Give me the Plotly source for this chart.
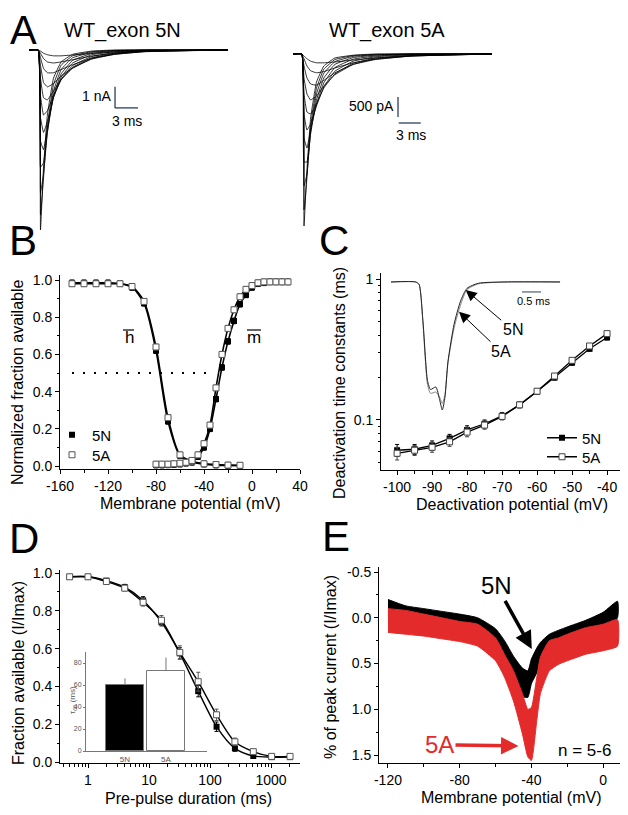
import plotly.graph_objects as go

W, H = 628, 815
SHIFT = 8  # the page body puts the figure 8 px in from the top-left corner
FONT = "Liberation Sans, Arial, sans-serif"
RED = "#e32b2b"

# ---- A: current families (ms, nA) ----
t_5n = [-1.2, 0, 0.3, 0.7, 1.2, 2, 3, 4.5, 7, 10, 14, 24.8]
i_5n = [
    [0, 0, -8.3, -5.4, -3.0, -1.3, -0.55, -0.2, -0.05, 0, 0, 0],
    [0, 0, -7.6, -5.9, -3.5, -1.6, -0.7, -0.27, -0.08, -0.02, 0, 0],
    [0, 0, -6.6, -5.7, -3.8, -1.9, -0.9, -0.36, -0.11, -0.03, 0, 0],
    [0, 0, -5.4, -5.2, -3.8, -2.1, -1.1, -0.48, -0.16, -0.05, -0.01, 0],
    [0, 0, -4.2, -4.6, -3.6, -2.2, -1.25, -0.6, -0.22, -0.08, -0.02, 0],
    [0, 0, -3.1, -3.8, -3.3, -2.2, -1.35, -0.72, -0.3, -0.12, -0.04, 0],
    [0, 0, -2.1, -3.0, -2.8, -2.1, -1.38, -0.8, -0.36, -0.15, -0.05, 0],
    [0, 0, -1.3, -2.2, -2.3, -1.9, -1.35, -0.85, -0.4, -0.18, -0.06, 0],
    [0, 0, -0.7, -1.5, -1.7, -1.55, -1.2, -0.82, -0.42, -0.2, -0.07, 0],
    [0, 0, -0.35, -0.85, -1.05, -1.05, -0.9, -0.68, -0.38, -0.2, -0.08, 0],
    [0, 0, -0.15, -0.4, -0.55, -0.6, -0.55, -0.45, -0.28, -0.15, -0.06, 0],
    [0, 0, -0.05, -0.15, -0.22, -0.27, -0.27, -0.23, -0.16, -0.09, -0.04, 0],
]
t_5a = [-1.2, 0, 0.3, 0.7, 1.2, 2, 3, 4.5, 7, 10, 15, 25.9]
i_5a = [
    [0, 0, -4.3, -2.9, -1.6, -0.7, -0.3, -0.1, -0.03, 0, 0, 0],
    [0, 0, -3.9, -3.1, -1.8, -0.85, -0.38, -0.14, -0.04, -0.01, 0, 0],
    [0, 0, -3.3, -3.0, -1.95, -1.0, -0.48, -0.19, -0.06, -0.02, 0, 0],
    [0, 0, -2.7, -2.7, -2.0, -1.15, -0.6, -0.26, -0.09, -0.03, 0, 0],
    [0, 0, -2.1, -2.35, -1.9, -1.25, -0.72, -0.34, -0.13, -0.05, -0.01, 0],
    [0, 0, -1.5, -1.9, -1.75, -1.3, -0.82, -0.43, -0.18, -0.07, -0.02, 0],
    [0, 0, -1.0, -1.45, -1.5, -1.25, -0.85, -0.5, -0.23, -0.1, -0.03, 0],
    [0, 0, -0.6, -1.0, -1.15, -1.05, -0.8, -0.52, -0.26, -0.12, -0.04, 0],
    [0, 0, -0.3, -0.6, -0.75, -0.78, -0.66, -0.47, -0.26, -0.14, -0.05, 0],
    [0, 0, -0.12, -0.3, -0.42, -0.47, -0.44, -0.35, -0.22, -0.13, -0.05, 0],
    [0, 0, -0.05, -0.12, -0.18, -0.22, -0.22, -0.2, -0.15, -0.1, -0.05, 0],
]

# ---- B: steady-state inactivation (h) and activation (m) ----
v_h = [-150, -140, -130, -120, -110, -100, -90, -80, -70, -60, -50, -40, -30, -20, -10]
h_5n = [0.985, 0.985, 0.985, 0.985, 0.98, 0.96, 0.875, 0.62, 0.24, 0.055, 0.02, 0.01, 0.005, 0.003, 0.002]
h_5a = [0.98, 0.98, 0.98, 0.98, 0.98, 0.965, 0.885, 0.64, 0.26, 0.06, 0.025, 0.012, 0.008, 0.005, 0.004]
v_m = [-80, -75, -70, -65, -60, -55, -50, -45, -40, -35, -30, -25, -20, -15, -10, -5, 0, 5, 10, 15, 20, 25, 30]
m_5n = [0.005, 0.005, 0.006, 0.008, 0.01, 0.015, 0.025, 0.05, 0.1, 0.2, 0.36, 0.53, 0.67, 0.78, 0.87,
        0.92, 0.96, 0.98, 0.985, 0.99, 0.99, 0.99, 0.99]
m_5a = [0.01, 0.01, 0.01, 0.012, 0.015, 0.02, 0.03, 0.06, 0.12, 0.22, 0.42, 0.6, 0.74, 0.84, 0.91,
        0.95, 0.97, 0.985, 0.99, 0.99, 0.99, 0.99, 0.99]

# ---- C: deactivation time constants (ms) ----
v_deact = [-100, -95, -90, -85, -80, -75, -70, -65, -60, -55, -50, -45, -40]
tau_5n = [0.061, 0.062, 0.066, 0.074, 0.085, 0.094, 0.107, 0.128, 0.159, 0.2, 0.255, 0.32, 0.385]
tau_5a = [0.058, 0.061, 0.064, 0.070, 0.082, 0.092, 0.106, 0.128, 0.16, 0.205, 0.265, 0.335, 0.41]
tau_err = [0.006, 0.005, 0.005, 0.005, 0.006, 0.006, 0.006, 0.006, 0.007, 0.008, 0.01, 0.012, 0.015]
# inset tail currents (ms, normalised)
t_tail = [0, 0.65, 0.74, 0.84, 0.96, 1.04, 1.18, 1.28, 1.35, 1.42, 1.5, 1.66, 1.83, 2.0, 2.3, 3.0, 4.45]
tail_5n = [0, 0, -0.02, -0.3, -0.77, -0.84, -0.82, -0.92, -1.0, -0.9, -0.62, -0.33, -0.15, -0.05, -0.01, 0, 0]
tail_5a = [0, 0, -0.02, -0.32, -0.8, -0.87, -0.86, -0.9, -0.95, -0.88, -0.63, -0.36, -0.18, -0.06, -0.015, 0, 0]

# ---- D: development of closed-state inactivation ----
dur = [0.5, 1, 2, 4, 8, 16, 32, 64, 128, 256, 512, 1024, 2048]
frac_5n = [0.98, 0.98, 0.96, 0.925, 0.855, 0.74, 0.575, 0.375, 0.187, 0.072, 0.032, 0.026, 0.026]
frac_5a = [0.98, 0.98, 0.955, 0.92, 0.845, 0.75, 0.58, 0.425, 0.25, 0.107, 0.055, 0.03, 0.03]
err_5n = [0.01, 0.01, 0.01, 0.015, 0.02, 0.02, 0.03, 0.03, 0.025, 0.015, 0.01, 0.01, 0.01]
err_5a = [0.01, 0.01, 0.015, 0.015, 0.02, 0.025, 0.035, 0.05, 0.03, 0.02, 0.01, 0.01, 0.01]
bar_names = ["5N", "5A"]
tau60 = [60, 73]
tau60_err = [6, 12]

# ---- E: ramp currents (band edges of the noisy traces) ----
v_e5n = [-120, -110, -100, -90, -80, -70, -60, -55, -50, -45, -42, -40, -37, -35, -30, -20, -10, 0, 8]
top_5n = [-0.2, -0.13, -0.1, -0.07, -0.04, 0.0, 0.12, 0.25, 0.42, 0.55, 0.58, 0.45, 0.33, 0.27, 0.18, 0.1,
          0.03, -0.06, -0.18]
bot_5n = [0.0, 0.05, 0.06, 0.08, 0.1, 0.15, 0.32, 0.5, 0.7, 0.86, 0.87, 0.72, 0.6, 0.5, 0.4, 0.3, 0.21, 0.14, 0.0]
v_e5a = [-120, -110, -100, -90, -80, -70, -60, -55, -50, -45, -42, -40, -37, -35, -30, -25, -20, -10, 0, 8]
top_5a = [-0.1, -0.08, -0.04, 0.0, 0.04, 0.07, 0.22, 0.4, 0.58, 0.83, 1.0, 0.98, 0.65, 0.43, 0.25, 0.22, 0.18,
          0.11, 0.07, 0.02]
bot_5a = [0.16, 0.18, 0.2, 0.23, 0.26, 0.31, 0.47, 0.65, 0.91, 1.27, 1.52, 1.56, 1.12, 0.83, 0.58, 0.51, 0.47,
          0.4, 0.36, 0.31]


def fx(px):
    return (px - SHIFT) / W


def fy(py):
    return 1 - (py - SHIFT) / H


def xd(a, b):
    return [fx(a), fx(b)]


def yd(top, bottom):
    return [fy(bottom), fy(top)]


def axis(domain, rng, anchor, **kw):
    d = dict(domain=domain, range=rng, anchor=anchor, showline=True, linecolor="black", linewidth=1,
             ticks="outside", ticklen=4, tickwidth=1, tickcolor="black", showgrid=False, zeroline=False,
             tickfont=dict(size=14, color="black", family=FONT))
    d.update(kw)
    return d


def minor(dtick, tick0=0, ln=2.5):
    return dict(ticks="outside", ticklen=ln, tickcolor="black", tickmode="linear", tick0=tick0, dtick=dtick,
                showgrid=False)


def txt(text, px, py, size, color="black", angle=0, xanchor="center"):
    return dict(text=text, x=fx(px), y=fy(py), xref="paper", yref="paper", showarrow=False,
                textangle=angle, xanchor=xanchor, yanchor="middle",
                font=dict(size=size, color=color, family=FONT))


def one_legend(px, py):
    return dict(x=fx(px), y=fy(py), xanchor="left", yanchor="middle", bgcolor="rgba(0,0,0,0)",
                font=dict(size=15, family=FONT), borderwidth=0)


def pline(x0, x1, py, width=1.2):
    return dict(type="line", xref="paper", yref="paper", x0=fx(x0), x1=fx(x1), y0=fy(py), y1=fy(py),
                line=dict(width=width, color="black"))


fig = go.Figure()

# A
for tr in i_5n:
    fig.add_trace(go.Scatter(x=t_5n, y=tr, mode="lines", xaxis="x", yaxis="y", showlegend=False,
                             line=dict(color="black", width=0.8, shape="spline", smoothing=0.3)))
for tr in i_5a:
    fig.add_trace(go.Scatter(x=t_5a, y=tr, mode="lines", xaxis="x2", yaxis="y2", showlegend=False,
                             line=dict(color="black", width=0.8, shape="spline", smoothing=0.3)))

# B
for v, y in [(v_h, h_5n), (v_h, h_5a), (v_m, m_5n), (v_m, m_5a)]:
    fig.add_trace(go.Scatter(x=v, y=y, mode="lines", xaxis="x3", yaxis="y3", showlegend=False,
                             line=dict(color="black", width=1.6, shape="spline", smoothing=0.8)))
fig.add_trace(go.Scatter(x=v_h + v_m, y=h_5n + m_5n, mode="markers", name="5N", xaxis="x3", yaxis="y3",
                         legend="legend",
                         marker=dict(symbol="square", size=6, color="black"),
                         error_y=dict(type="constant", value=0.015, thickness=1, width=2, color="black")))
fig.add_trace(go.Scatter(x=v_h + v_m, y=h_5a + m_5a, mode="markers", name="5A", xaxis="x3", yaxis="y3",
                         legend="legend3",
                         marker=dict(symbol="square", size=6, color="white", line=dict(color="#555", width=1)),
                         error_y=dict(type="constant", value=0.015, thickness=1, width=2, color="#555")))

# C
fig.add_trace(go.Scatter(x=t_tail, y=tail_5a, mode="lines", xaxis="x5", yaxis="y5", showlegend=False,
                         line=dict(color="#888", width=1, shape="spline", smoothing=0.6)))
fig.add_trace(go.Scatter(x=t_tail, y=tail_5n, mode="lines", xaxis="x5", yaxis="y5", showlegend=False,
                         line=dict(color="#222", width=1, shape="spline", smoothing=0.6)))
fig.add_trace(go.Scatter(x=v_deact, y=tau_5n, mode="lines+markers", name="5N", xaxis="x4", yaxis="y4",
                         legend="legend2", line=dict(color="black", width=1.3),
                         marker=dict(symbol="square", size=6, color="black"),
                         error_y=dict(type="data", array=tau_err, thickness=1, width=2, color="black")))
fig.add_trace(go.Scatter(x=v_deact, y=tau_5a, mode="lines+markers", name="5A", xaxis="x4", yaxis="y4",
                         legend="legend4", line=dict(color="black", width=1.3),
                         marker=dict(symbol="square", size=6, color="white", line=dict(color="#444", width=1)),
                         error_y=dict(type="data", array=tau_err, thickness=1, width=2, color="#444")))

# D
fig.add_trace(go.Bar(x=bar_names, y=tau60, xaxis="x7", yaxis="y7", showlegend=False, width=0.93,
                     marker=dict(color=["black", "white"], line=dict(color="#777", width=1)),
                     error_y=dict(type="data", array=tau60_err, arrayminus=[0, 0], thickness=1, width=0,
                                  color="#777")))
for y in (frac_5n, frac_5a):
    fig.add_trace(go.Scatter(x=dur, y=y, mode="lines", xaxis="x6", yaxis="y6", showlegend=False,
                             line=dict(color="black", width=1.4, shape="spline", smoothing=0.8)))
fig.add_trace(go.Scatter(x=dur, y=frac_5n, mode="markers", xaxis="x6", yaxis="y6", showlegend=False,
                         marker=dict(symbol="square", size=6, color="black"),
                         error_y=dict(type="data", array=err_5n, thickness=1, width=2, color="black")))
fig.add_trace(go.Scatter(x=dur, y=frac_5a, mode="markers", xaxis="x6", yaxis="y6", showlegend=False,
                         marker=dict(symbol="square", size=6, color="white", line=dict(color="#555", width=1)),
                         error_y=dict(type="data", array=err_5a, thickness=1, width=2, color="#555")))

# E
fig.add_trace(go.Scatter(x=v_e5n + v_e5n[::-1], y=top_5n + bot_5n[::-1], mode="lines", fill="toself",
                         fillcolor="black", xaxis="x8", yaxis="y8", showlegend=False,
                         line=dict(color="black", width=1, shape="spline", smoothing=0.5)))
fig.add_trace(go.Scatter(x=v_e5a + v_e5a[::-1], y=top_5a + bot_5a[::-1], mode="lines", fill="toself",
                         fillcolor=RED, xaxis="x8", yaxis="y8", showlegend=False,
                         line=dict(color=RED, width=1, shape="spline", smoothing=0.5)))

hidden = dict(visible=False, showgrid=False, zeroline=False)

annotations = [
    txt("A", 23, 30, 40), txt("B", 23, 240, 42), txt("C", 334, 240, 42),
    txt("D", 24, 538, 42), txt("E", 336, 536, 42),
    txt("WT_exon 5N", 123, 31, 20), txt("WT_exon 5A", 387, 31, 20),
    txt("1 nA", 113, 96, 14, xanchor="right"), txt("3 ms", 127, 121, 14),
    txt("500 pA", 396, 106, 14, xanchor="right"), txt("3 ms", 411, 135, 14),
    txt("h", 129, 337, 17), txt("m", 254, 337, 17),
    txt("Normalized fraction available", 17, 382, 16, angle=-90),
    txt("Membrane potential (mV)", 190, 503, 16),
    txt("Deactivation time constants (ms)", 339, 383, 16, angle=-90),
    txt("Deactivation potential (mV)", 512, 504, 16),
    txt("0.5 ms", 534, 301, 11),
    txt("Fraction available (I/Imax)", 18, 673, 16, angle=-90),
    txt("Pre-pulse duration (ms)", 188, 798, 16),
    txt("τ<sub>60</sub> (ms)", 73, 700, 8, color="#555", angle=-90),
    txt("% of peak current (I/Imax)", 330, 667, 16, angle=-90),
    txt("Membrane potential (mV)", 511, 797, 16),
    txt("n = 5-6", 584, 750, 17),
    dict(text="5N", x=1.966, y=-0.0625, xref="x5", yref="y5", ax=47, ay=40, showarrow=True,
         arrowhead=2, arrowsize=2.2, arrowwidth=1, arrowcolor="black", font=dict(size=16, family=FONT)),
    dict(text="5A", x=1.79, y=-0.232, xref="x5", yref="y5", ax=42, ay=40, showarrow=True,
         arrowhead=2, arrowsize=2.2, arrowwidth=1, arrowcolor="black", font=dict(size=16, family=FONT)),
    dict(text="5N", x=-39.8, y=0.34, xref="x8", yref="y8", ax=-35, ay=-63, showarrow=True,
         arrowhead=2, arrowsize=1.0, arrowwidth=3.5, arrowcolor="black",
         font=dict(size=24, color="black", family=FONT)),
    dict(text="5A", x=-47.2, y=1.40, xref="x8", yref="y8", ax=-79, ay=-1, showarrow=True,
         arrowhead=2, arrowsize=1.0, arrowwidth=3.5, arrowcolor=RED,
         font=dict(size=24, color=RED, family=FONT)),
]

shapes = [
    # scale bars A
    dict(type="line", xref="x", yref="y", x0=10.04, x1=10.04, y0=-1.70, y1=-2.67, line=dict(width=1.3)),
    dict(type="line", xref="x", yref="y", x0=10.04, x1=13.04, y0=-2.67, y1=-2.67, line=dict(width=1.3)),
    dict(type="line", xref="x2", yref="y2", x0=13.1, x1=13.1, y0=-1.075, y1=-1.575, line=dict(width=1.3)),
    dict(type="line", xref="x2", yref="y2", x0=13.2, x1=16.2, y0=-1.725, y1=-1.725, line=dict(width=1.3)),
    # half-maximum dotted line B
    dict(type="line", xref="x3", yref="y3", x0=-150, x1=-37, y0=0.5, y1=0.5,
         line=dict(width=2, color="black", dash="2px,9px")),
    # overbars on h and m
    pline(123, 134, 330), pline(247, 261, 330),
    # inset scale bar C
    dict(type="line", xref="x5", yref="y5", x0=3.45, x1=3.95, y0=-0.078, y1=-0.078, line=dict(width=1)),
]

fig.update_layout(
    width=W, height=H, margin=dict(l=0, r=0, t=0, b=0, autoexpand=False),
    paper_bgcolor="white", plot_bgcolor="rgba(0,0,0,0)",
    font=dict(family=FONT, color="black"),
    xaxis=dict(domain=xd(29, 228), range=[-1.2, 24.8], anchor="y", **hidden),
    yaxis=dict(domain=yd(45, 235), range=[-8.53, 0.23], anchor="x", **hidden),
    xaxis2=dict(domain=xd(293, 492), range=[-1.2, 25.9], anchor="y2", **hidden),
    yaxis2=dict(domain=yd(45, 230), range=[-4.4, 0.225], anchor="x2", **hidden),
    xaxis3=axis(xd(60, 300), [-160, 40], "y3", tickmode="array", tickvals=[-160, -120, -80, -40, 0, 40],
                ticktext=["-160", "-120", "-80", "-40", "0", "40"], minor=minor(20, -160)),
    yaxis3=axis(yd(275, 469), [-0.016, 1.027], "x3", tick0=0, dtick=0.2, tickformat=".1f",
                minor=minor(0.1)),
    xaxis4=axis(xd(381, 620), [-104.6, -36.3], "y4", tickmode="array",
                tickvals=[-100, -90, -80, -70, -60, -50, -40],
                ticktext=["-100", "-90", "-80", "-70", "-60", "-50", "-40"], minor=minor(5, -100)),
    yaxis4=axis(yd(273, 470), [-1.355, 0.043], "x4", type="log", tickmode="array", tickvals=[0.1, 1],
                ticktext=["0.1", "1"], minor=dict(ticks="outside", ticklen=2.5, tickcolor="black",
                                                   dtick="D1", showgrid=False)),
    xaxis5=dict(domain=xd(385, 565), range=[-0.158, 4.58], anchor="y5", **hidden),
    yaxis5=dict(domain=yd(278, 415), range=[-1.039, 0.031], anchor="x5", **hidden),
    xaxis6=axis(xd(60, 300), [-0.459, 3.475], "y6", type="log", tickmode="array",
                tickvals=[1, 10, 100, 1000], ticktext=["1", "10", "100", "1000"],
                minor=dict(ticks="outside", ticklen=2.5, tickcolor="black", dtick="D1", showgrid=False)),
    yaxis6=axis(yd(570, 763), [-0.005, 1.016], "x6", tick0=0, dtick=0.2, tickformat=".1f",
                minor=minor(0.1)),
    xaxis7=axis(xd(86, 207), [-0.95, 2.0], "y7", type="category", ticks="", linecolor="#777",
                tickfont=dict(size=8, color="#555", family=FONT)),
    yaxis7=axis(yd(652, 751), [0, 90], "x7", tickvals=[0, 20, 40, 60, 80], ticklen=2, tickcolor="#777",
                linecolor="#777", tickfont=dict(size=7, color="#555", family=FONT)),
    xaxis8=axis(xd(379, 620), [-125, 9.4], "y8", tickmode="array", tickvals=[-120, -80, -40, 0],
                ticktext=["-120", "-80", "-40", "0"], minor=minor(20, -120)),
    yaxis8=axis(yd(567, 763), [1.587, -0.555], "x8", tickmode="array", tickvals=[-0.5, 0, 0.5, 1.0, 1.5],
                ticktext=["-0.5", "0.0", "0.5", "1.0", "1.5"], minor=minor(0.25)),
    legend=one_legend(52, 435),
    legend3=one_legend(52, 455),
    legend2=one_legend(542, 438),
    legend4=one_legend(542, 457),
    annotations=annotations,
    shapes=shapes,
    bargap=0,
)

fig.write_html("out.html")
